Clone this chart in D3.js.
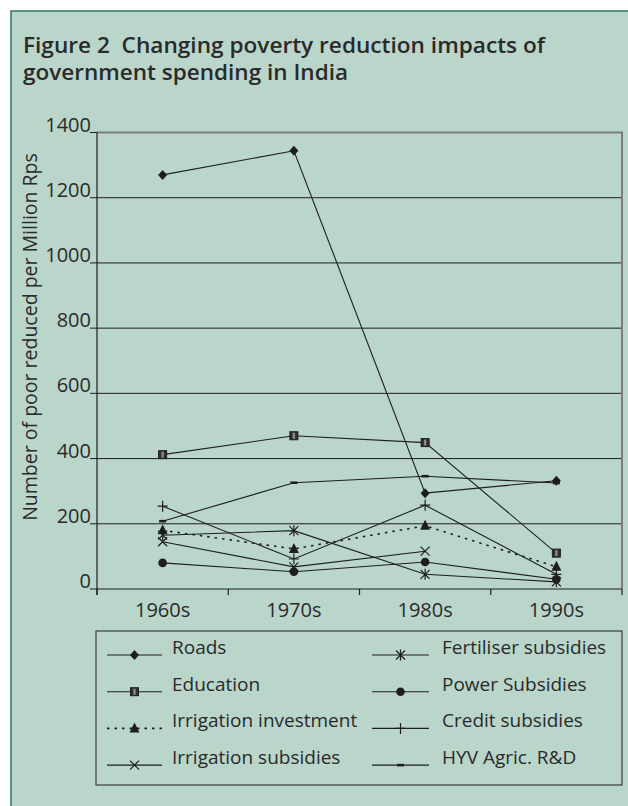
<!DOCTYPE html>
<html>
<head>
<meta charset="utf-8">
<script src="https://cdn.jsdelivr.net/npm/d3@7"></script>
<style>
  body { margin: 0; background: #fff; }
  text { font-family: "Open Sans", "DejaVu Sans", sans-serif; fill: #2a2a2a; }
</style>
</head>
<body>
<div id="chart"></div>
<script>
// data
const decades = ["1960s", "1970s", "1980s", "1990s"];
const roads = [1270, 1344, 294, 332];
const education = [412, 470, 449, 110];
const irrigationInvestment = [180, 123, 194, 68];
const irrigationSubsidies = [145, 68, 116, null];
const fertiliserSubsidies = [165, 179, 45, 22];
const powerSubsidies = [80, 53, 83, 30];
const creditSubsidies = [254, 92, 257, 45];
const hyvRD = [208, 326, 346, 325];
const yTicks = [0, 200, 400, 600, 800, 1000, 1200, 1400];

const series = [
    { name: "Roads", values: roads, marker: "diamond" },
    { name: "Education", values: education, marker: "square" },
    { name: "Irrigation investment", values: irrigationInvestment, marker: "triangle", dotted: true },
    { name: "Irrigation subsidies", values: irrigationSubsidies, marker: "times" },
    { name: "Fertiliser subsidies", values: fertiliserSubsidies, marker: "asterisk" },
    { name: "Power Subsidies", values: powerSubsidies, marker: "circle" },
    { name: "Credit subsidies", values: creditSubsidies, marker: "plus" },
    { name: "HYV Agric. R&D", values: hyvRD, marker: "dash" },
];

const width = 628, height = 806;
const bg = "#bad5ca", ink = "#1e1e1e";

const svg = d3.select("#chart").append("svg")
    .attr("width", width)
    .attr("height", height);

// panel
svg.append("rect")
    .attr("x", 11).attr("y", 11)
    .attr("width", width + 20).attr("height", height + 20)
    .attr("fill", bg)
    .attr("stroke", "#2f7658")
    .attr("stroke-width", 1.5);

// title
const title = svg.append("g").style("font-weight", 600).style("font-size", "21px");
title.append("text").attr("x", 23).attr("y", 53)
    .attr("textLength", 522).attr("lengthAdjust", "spacingAndGlyphs")
    .text("Figure 2\u00a0 Changing poverty reduction impacts of");
title.append("text").attr("x", 23).attr("y", 80)
    .attr("textLength", 325).attr("lengthAdjust", "spacingAndGlyphs")
    .text("government spending in India");

// scales
const x = d3.scaleBand().domain(decades).range([97, 622]);
const y = d3.scaleLinear().domain([0, 1400]).range([589, 132.5]);
const cx = d => x(d) + x.bandwidth() / 2;

// gridlines
svg.append("g").selectAll("line")
    .data(yTicks.filter(t => t > 0 && t < 1400))
    .join("line")
    .attr("x1", 97).attr("x2", 622)
    .attr("y1", d => y(d)).attr("y2", d => y(d))
    .attr("stroke", ink).attr("stroke-width", 1);

// plot border top/right
svg.append("path")
    .attr("d", `M97,${y(1400)}H622V${y(0)}`)
    .attr("fill", "none")
    .attr("stroke", "#7d7d7d")
    .attr("stroke-width", 2);

// y axis
const yAxis = svg.append("g");
yAxis.append("line")
    .attr("x1", 97).attr("x2", 97)
    .attr("y1", y(1400)).attr("y2", y(0) + 6)
    .attr("stroke", ink).attr("stroke-width", 1.2);
yAxis.selectAll(".tick")
    .data(yTicks)
    .join("line")
    .attr("x1", 90).attr("x2", 97)
    .attr("y1", d => y(d)).attr("y2", d => y(d))
    .attr("stroke", ink).attr("stroke-width", 1);
yAxis.selectAll("text")
    .data(yTicks)
    .join("text")
    .attr("x", 91)
    .attr("y", d => y(d) - 1)
    .attr("text-anchor", "end")
    .style("font-size", "20px")
    .text(d => d);

svg.append("text")
    .attr("transform", "translate(37,337) rotate(-90)")
    .attr("text-anchor", "middle")
    .style("font-size", "19.5px")
    .text("Number of poor reduced per Million Rps");

// x axis
const xAxis = svg.append("g");
xAxis.append("line")
    .attr("x1", 97).attr("x2", 622)
    .attr("y1", y(0)).attr("y2", y(0))
    .attr("stroke", ink).attr("stroke-width", 1.2);
xAxis.selectAll(".tick")
    .data(decades.map(d => x(d)).concat([622]))
    .join("line")
    .attr("x1", d => d).attr("x2", d => d)
    .attr("y1", y(0)).attr("y2", y(0) + 6)
    .attr("stroke", ink).attr("stroke-width", 1.2);
xAxis.selectAll("text")
    .data(decades)
    .join("text")
    .attr("x", d => cx(d))
    .attr("y", 617)
    .attr("text-anchor", "middle")
    .style("font-size", "20px")
    .text(d => d);

// marker shapes
function drawMarker(g, type, px, py) {
    if (type === "diamond") {
        g.append("path").attr("d", `M${px},${py - 5}L${px + 4.5},${py}L${px},${py + 5}L${px - 4.5},${py}Z`).attr("fill", ink);
    } else if (type === "square") {
        g.append("rect").attr("x", px - 4).attr("y", py - 4).attr("width", 8).attr("height", 8)
            .attr("fill", "#303030").attr("stroke", ink).attr("stroke-width", 1);
        g.append("rect").attr("x", px - 1.2).attr("y", py - 3).attr("width", 2.4).attr("height", 6)
            .attr("fill", "#8a8a8a");
    } else if (type === "triangle") {
        g.append("path").attr("d", `M${px},${py - 6}L${px + 5},${py + 4}L${px - 5},${py + 4}Z`).attr("fill", ink);
    } else if (type === "circle") {
        g.append("circle").attr("cx", px).attr("cy", py).attr("r", 4.3).attr("fill", ink);
    } else if (type === "times") {
        g.append("path").attr("d", `M${px - 4.5},${py - 4.5}L${px + 4.5},${py + 4.5}M${px + 4.5},${py - 4.5}L${px - 4.5},${py + 4.5}`)
            .attr("stroke", ink).attr("stroke-width", 1.2);
    } else if (type === "asterisk") {
        g.append("path").attr("d", `M${px - 4.5},${py - 4.5}L${px + 4.5},${py + 4.5}M${px + 4.5},${py - 4.5}L${px - 4.5},${py + 4.5}M${px},${py - 5.5}V${py + 5.5}`)
            .attr("stroke", ink).attr("stroke-width", 1.2);
    } else if (type === "plus") {
        g.append("path").attr("d", `M${px - 5},${py}H${px + 5}M${px},${py - 5.5}V${py + 5.5}`)
            .attr("stroke", ink).attr("stroke-width", 1.2);
    } else if (type === "dash") {
        g.append("rect").attr("x", px - 3.5).attr("y", py - 1.3).attr("width", 7).attr("height", 2.6).attr("fill", ink);
    }
}

// lines
const line = d3.line()
    .defined(d => d.v != null)
    .x(d => cx(d.decade))
    .y(d => y(d.v));

const lines = svg.append("g");
series.forEach(s => {
    const pts = decades.map((d, i) => ({ decade: d, v: s.values[i] }));
    lines.append("path")
        .attr("d", line(pts))
        .attr("fill", "none")
        .attr("stroke", ink)
        .attr("stroke-width", s.dotted ? 1.6 : 1.1)
        .attr("stroke-dasharray", s.dotted ? "2.5,5" : null);
});
const markers = svg.append("g");
series.forEach(s => {
    decades.forEach((d, i) => {
        if (s.values[i] != null) drawMarker(markers, s.marker, cx(d), y(s.values[i]));
    });
});

// legend
svg.append("rect")
    .attr("x", 96).attr("y", 631)
    .attr("width", 526).attr("height", 154)
    .attr("fill", "none")
    .attr("stroke", "#3c3c3c")
    .attr("stroke-width", 1.2);

const legend = svg.append("g");
series.forEach((s, i) => {
    const col = Math.floor(i / 4), row = i % 4;
    const lx = col === 0 ? 107 : 372;
    const lw = col === 0 ? 55 : 57;
    const base = 654 + row * 36.7;
    const g = legend.append("g");
    g.append("line")
        .attr("x1", lx).attr("x2", lx + lw)
        .attr("y1", base + 1).attr("y2", base + 1)
        .attr("stroke", ink)
        .attr("stroke-width", s.dotted ? 1.6 : 1.1)
        .attr("stroke-dasharray", s.dotted ? "2.5,5" : null);
    drawMarker(g, s.marker, lx + lw / 2, base + 1);
    g.append("text")
        .attr("x", col === 0 ? 172 : 442)
        .attr("y", base)
        .style("font-size", "19px")
        .text(s.name);
});
</script>
</body>
</html>
